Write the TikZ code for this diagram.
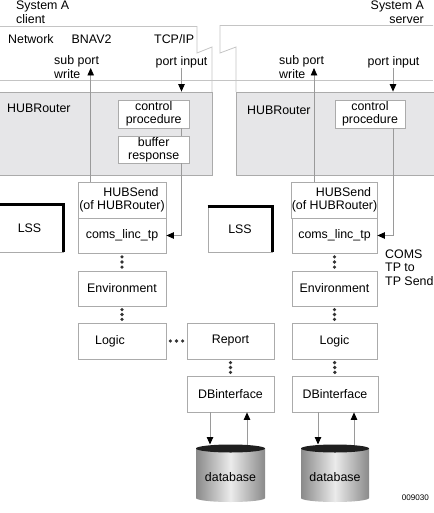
\documentclass[tikz,border=0pt]{standalone}
\usepackage{fontspec}
\setmainfont{Liberation Sans}
\usetikzlibrary{arrows.meta,calc}
\definecolor{boxline}{HTML}{ABABAB}
\definecolor{netline}{HTML}{C4C4C4}
\definecolor{hubfill}{HTML}{E6E6E8}
\definecolor{conn}{HTML}{9A9A9A}
\definecolor{cylE}{HTML}{8A8A8A}
\definecolor{cylM}{HTML}{EBEBEB}
\newcommand{\mydots}[2]{%
  \fill[black!80] ($(#1)!.2!(#2)$) circle (1.8);
  \fill[black!80] ($(#1)!.5!(#2)$) circle (1.8);
  \fill[black!80] ($(#1)!.8!(#2)$) circle (1.8);}
\newcommand{\mycyl}[3]{% center x, radius x, name
  \begin{scope}[shift={(#1,-448.5)}]
    \shade[left color=cylE, right color=cylE, middle color=cylM]
      (-#2,0) -- (-#2,-49.5) arc[start angle=180, end angle=360, x radius=#2, y radius=4] -- (#2,0) -- cycle;
    \fill[black!88] (0,0) ellipse[x radius=#2, y radius=4];
  \end{scope}
  \coordinate (#3top) at (#1,-444.5);
  \node (#3) at (#1,-477) {database};}
\begin{document}
\begin{tikzpicture}[x=1pt,y=1pt,
  every node/.style={font=\fontsize{12.4}{12.6}\selectfont, inner sep=0pt},
  box/.style={draw=boxline, line width=0.8pt, fill=white, align=center},
  hub/.style={draw=boxline, line width=0.8pt, fill=hubfill},
  two/.style={align=left, font=\fontsize{12.4}{13.6}\selectfont},
  conn/.style={draw=conn, line width=0.8pt},
  arr/.style={conn, -{Triangle[length=7.5pt,width=6.5pt,color=black]}},
  net/.style={draw=netline, line width=0.8pt},
  lss/.style={draw=boxline, line width=0.8pt, fill=white},
  thick edge/.style={draw=black, line width=2.6pt}
]
\useasboundingbox (0,0) rectangle (433,-513);

% network frame
\draw[net] (0,-26.5) -- (197,-26.5) -- (197,-53) -- (212,-47) -- (212,-92);
\draw[net] (433,-25.5) -- (220,-25.5) -- (220,-53) -- (236,-47) -- (236,-92);
\draw[net] (0,-80) -- (433,-80);

% header texts
\node[two, anchor=west] (sysC) at (16,-12) {System A\\client};
\node[two, align=right, anchor=east] (sysS) at (424,-12) {System A\\server};
\node[anchor=west] (netw) at (8,-39) {Network};
\node[anchor=west] (bnav) at (71.5,-39) {BNAV2};
\node[anchor=west] (tcp) at (154,-39) {TCP/IP};
\node[two, anchor=west] (spwL) at (54,-67) {sub port\\write};
\node[anchor=west] (pitL) at (155.5,-62) {port input};
\node[two, anchor=west] (spwR) at (279,-67) {sub port\\write};
\node[anchor=west] (pitR) at (367.5,-62) {port input};

% HUBRouter boxes
\node[hub, minimum width=213, minimum height=83] (hubL) at (105.5,-133.5) {};
\node[hub, minimum width=199, minimum height=83] (hubR) at (335.5,-133.5) {};
\node[anchor=west] (hubTL) at (7,-108) {HUBRouter};
\node[anchor=west] (hubTR) at (247,-110) {HUBRouter};
\node[box, minimum width=71, minimum height=28] (ctlL) at (153.7,-114) {control\\procedure};
\node[box, minimum width=71, minimum height=27] (bufL) at (153.7,-149.5) {buffer\\response};
\node[box, minimum width=70, minimum height=28] (ctlR) at (370,-114) {control\\procedure};

% HUBSend / coms
\node[box, minimum width=88, minimum height=36] (hsL) at (122,-200) {\hspace*{18pt}HUBSend\\(of HUBRouter)};
\node[box, minimum width=88, minimum height=35] (comsL) at (122,-235.5) {coms\_linc\_tp};
\node[box, minimum width=85, minimum height=36] (hsR) at (334.5,-200) {\hspace*{18pt}HUBSend\\(of HUBRouter)};
\node[box, minimum width=85, minimum height=35] (comsR) at (334.5,-235.5) {coms\_linc\_tp};

% LSS
\node[lss, minimum width=67, minimum height=47] (lssL) at (29.5,-228.5) {LSS};
\draw[thick edge] (lssL.north west) -- (lssL.north east) -- (lssL.south east);
\node[lss, minimum width=64, minimum height=45] (lssR) at (240,-229.5) {LSS};
\draw[thick edge] (lssR.north west) -- (lssR.north east) -- (lssR.south east);

% lower boxes
\node[box, minimum width=88, minimum height=35] (envL) at (122,-288.5) {Environment};
\node[box, minimum width=88, minimum height=36, label={[xshift=-12pt]center:Logic}] (logL) at (122,-341) {};
\node[box, minimum width=87, minimum height=36] (repL) at (230.5,-341) {Report};
\node[box, minimum width=87, minimum height=36] (dbiL) at (230.5,-394) {DBinterface};
\node[box, minimum width=85, minimum height=35] (envR) at (334.5,-288.5) {Environment};
\node[box, minimum width=85, minimum height=36] (logR) at (334.5,-341) {Logic};
\node[box, minimum width=86, minimum height=36] (dbiR) at (335,-394) {DBinterface};

\node[two, anchor=west] (comsTxt) at (385,-267.5) {COMS\\TP to\\TP Send};

% databases
\mycyl{230.5}{34.5}{dbL}
\mycyl{335}{34}{dbR}

% arrows
\coordinate (spL) at (90.7,-68);
\coordinate (spR) at (314,-68);
\coordinate (piL) at (181.5,-68);
\coordinate (piR) at (393,-68);
\draw[arr] (hsL.north -| spL) -- (spL);
\draw[arr] (hsR.north -| spR) -- (spR);
\draw[arr] (piL) -- (piL |- hubL.north);
\draw[arr] (piR) -- (piR |- hubR.north);
\draw[conn] (ctlL.south -| piL) -- (bufL.north -| piL);
\draw[arr] (bufL.south -| piL) |- (comsL.east);
\draw[arr] (ctlR.south -| piR) |- (comsR.east);

\draw[arr] ([xshift=-20.5pt]dbiL.south) -- ([xshift=-20.5pt]dbLtop);
\draw[arr] ([xshift=16.5pt]dbLtop) -- ([xshift=16.5pt]dbiL.south);
\draw[arr] ([xshift=-17pt]dbiR.south) -- ([xshift=-17pt]dbRtop);
\draw[arr] ([xshift=19pt]dbRtop) -- ([xshift=19pt]dbiR.south);

% dotted links
\mydots{comsL.south}{envL.north}
\mydots{envL.south}{logL.north}
\mydots{logL.east}{repL.west}
\mydots{repL.south}{dbiL.north}
\mydots{comsR.south}{envR.north}
\mydots{envR.south}{logR.north}
\mydots{logR.south}{dbiR.north}

\node[anchor=east, font=\fontsize{8.1}{9}\selectfont] (figno) at (429,-497.5) {009030};
\end{tikzpicture}
\end{document}
